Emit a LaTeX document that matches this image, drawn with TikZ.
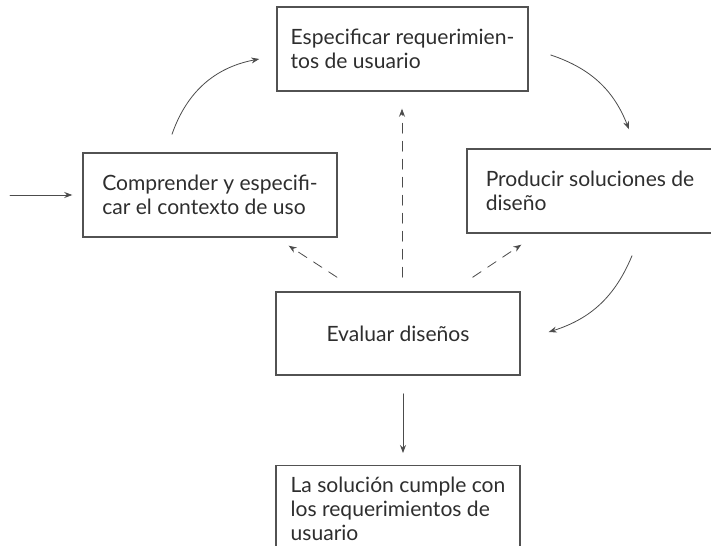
\documentclass[tikz,border=0pt]{standalone}
\usepackage{fontspec}
\setmainfont{Lato}
\usetikzlibrary{arrows.meta}

\begin{document}
\begin{tikzpicture}[x=0.75pt, y=-0.75pt, line cap=round,
    caja/.style={draw=black!68, line width=1.1pt, rectangle, align=left,
      inner sep=0pt, text=black!82, font=\fontsize{15.8}{17.8}\selectfont},
    flecha/.style={-{Stealth[length=6pt, width=4.5pt]}, black!70, line width=0.6pt},
    discont/.style={flecha, dash pattern=on 7.5pt off 6pt}]
    % --- marco de la figura
    \useasboundingbox (0,0) rectangle (711,546);
    \clip (0,0) rectangle (711,546);
    % --- actividades del ciclo
    \node[caja, minimum width=188.3pt, minimum height=63pt] (spec) at (402.5,49)
         {Especificar requerimien-\\tos de usuario};
    \node[caja, minimum width=190.5pt, minimum height=63pt] (ctx) at (210,195)
         {Comprender y especifi-\\car el contexto de uso};
    \node[caja, minimum width=184.5pt, minimum height=63pt] (prod) at (590,191)
         {Producir soluciones de\\diseño};
    \node[caja, minimum width=183pt, minimum height=62.3pt] (eval) at (398,333.5)
         {Evaluar diseños};
    \node[caja, minimum width=183pt, minimum height=64.5pt, anchor=north] (sol)
         at (398,465) {La solución cumple con\\los requerimientos de\\usuario};
    % --- entrada al ciclo
    \coordinate (entrada) at (10,195);
    \draw[flecha] (entrada) -- ([shift={(-10,0)}]ctx.west);
    % --- recorrido del ciclo
    \draw[flecha] ([shift={(-38,-18)}]ctx.north) to[bend left=30]
         ([shift={(-17,10)}]spec.west);
    \draw[flecha] ([shift={(22,6)}]spec.east) to[bend left=25]
         ([shift={(39,-19)}]prod.north);
    \draw[flecha] ([shift={(42,22)}]prod.south) to[bend left=25]
         ([shift={(28,-1.5)}]eval.east);
    % --- vuelta atras desde la evaluacion
    \draw[discont] ([shift={(-61,-14)}]eval.north) -- ([shift={(-49,8)}]ctx.south east);
    \draw[discont] ([shift={(4,-14)}]eval.north) -- ([shift={(-0.5,17)}]spec.south);
    \draw[discont] ([shift={(-48,-14)}]eval.north east) -- ([shift={(55,11)}]prod.south west);
    % --- salida
    \draw[flecha] ([shift={(5,18)}]eval.south) -- ([shift={(5,-12)}]sol.north);
\end{tikzpicture}
\end{document}
